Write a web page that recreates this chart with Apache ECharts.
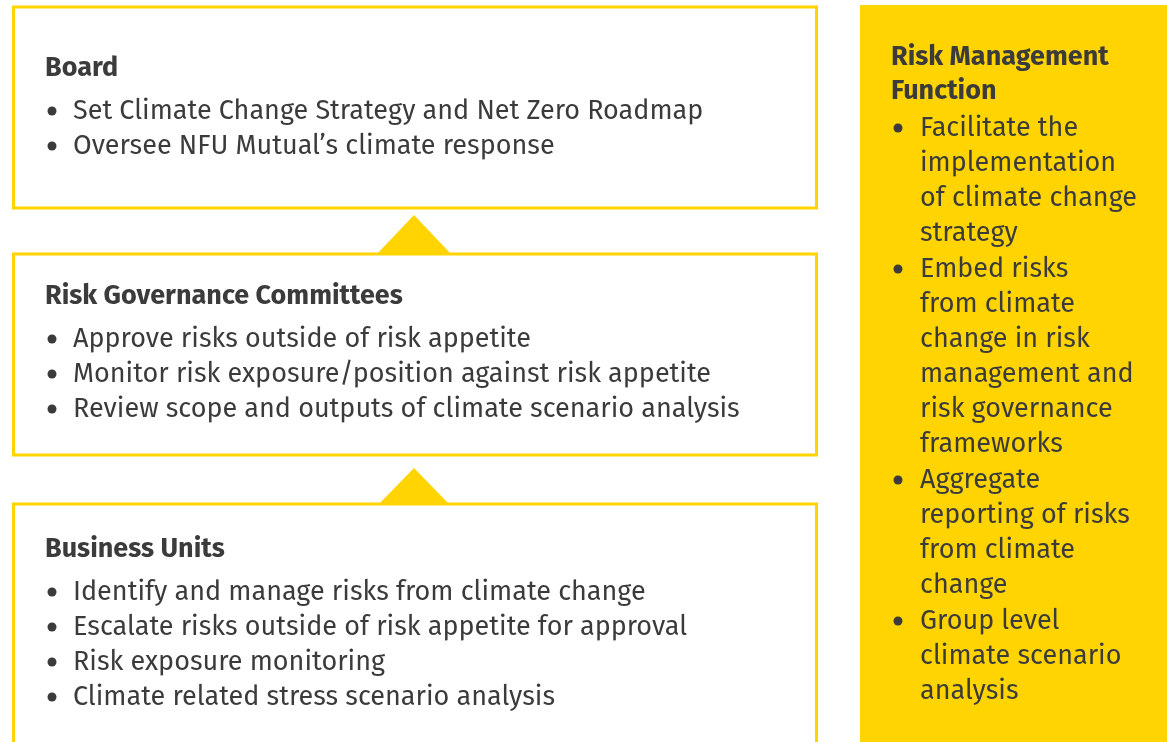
<!DOCTYPE html>
<html>
<head>
<meta charset="utf-8">
<script src="https://cdn.jsdelivr.net/npm/echarts@6/dist/echarts.min.js"></script>
<style>
html,body{margin:0;padding:0;background:#fff;}
#main{width:1167px;height:742px;}
</style>
</head>
<body>
<div id="main"></div>
<script>
// content of the three governance boxes
var boxTitles = ['Board', 'Risk Governance Committees', 'Business Units'];
var boardItems = [
	'Set Climate Change Strategy and Net Zero Roadmap',
	'Oversee NFU Mutual\u2019s climate response'
];
var committeeItems = [
	'Approve risks outside of risk appetite',
	'Monitor risk exposure/position against risk appetite',
	'Review scope and outputs of climate scenario analysis'
];
var unitItems = [
	'Identify and manage risks from climate change',
	'Escalate risks outside of risk appetite for approval',
	'Risk exposure monitoring',
	'Climate related stress scenario analysis'
];
// right hand panel (already wrapped as in the picture)
var sideTitle = ['Risk Management', 'Function'];
var sideItems = [
	['Facilitate the', 'implementation', 'of climate change', 'strategy'],
	['Embed risks', 'from climate', 'change in risk', 'management and', 'risk governance', 'frameworks'],
	['Aggregate', 'reporting of risks', 'from climate', 'change'],
	['Group level', 'climate scenario', 'analysis']
];

var YELLOW = '#FFD400';
var TEXT = '#3b3b3b';
var FONT = '"Fira Sans","Open Sans","Noto Sans",sans-serif';
var SIZE = 27;
var LH = 35;

var mycharts = echarts.init(document.getElementById('main'));
var els = [];

function boxEls(top, bottom, titleY, title, items){
	els.push({
		type:'rect',
		shape:{x:13.5, y:top, width:803, height:bottom-top},
		style:{fill:'#fff', stroke:YELLOW, lineWidth:3}
	});
	els.push({
		type:'text', x:45, y:titleY,
		style:{text:title, fill:TEXT, font:'bold '+SIZE+'px '+FONT, verticalAlign:'middle'}
	});
	var y = titleY + 43;
	for(var i=0;i<items.length;i++){
		els.push({type:'circle', shape:{cx:52, cy:y+i*LH, r:4.5}, style:{fill:TEXT}});
		els.push({
			type:'text', x:73, y:y+i*LH,
			style:{text:items[i], fill:TEXT, font:SIZE+'px '+FONT, verticalAlign:'middle'}
		});
	}
}

boxEls(7, 208, 68, boxTitles[0], boardItems);
boxEls(254, 455, 296, boxTitles[1], committeeItems);
boxEls(504, 760, 549, boxTitles[2], unitItems);

// arrows between boxes
els.push({type:'polygon', shape:{points:[[377,254],[414,215],[451,254]]}, style:{fill:YELLOW}});
els.push({type:'polygon', shape:{points:[[379,504],[414,468],[449,504]]}, style:{fill:YELLOW}});

// side panel
els.push({type:'rect', shape:{x:860, y:5, width:307, height:740}, style:{fill:YELLOW}});
for(var t=0;t<sideTitle.length;t++){
	els.push({
		type:'text', x:891, y:57+t*34,
		style:{text:sideTitle[t], fill:TEXT, font:'bold '+SIZE+'px '+FONT, verticalAlign:'middle'}
	});
}
var sy = 128;
for(var k=0;k<sideItems.length;k++){
	els.push({type:'circle', shape:{cx:898, cy:sy, r:4.5}, style:{fill:TEXT}});
	for(var j=0;j<sideItems[k].length;j++){
		els.push({
			type:'text', x:920, y:sy,
			style:{text:sideItems[k][j], fill:TEXT, font:SIZE+'px '+FONT, verticalAlign:'middle'}
		});
		sy += LH;
	}
	sy += 1;
}

var option = {
	animation:false,
	backgroundColor:'#fff',
	graphic:{elements:els}
};
mycharts.setOption(option);
</script>
</body>
</html>
